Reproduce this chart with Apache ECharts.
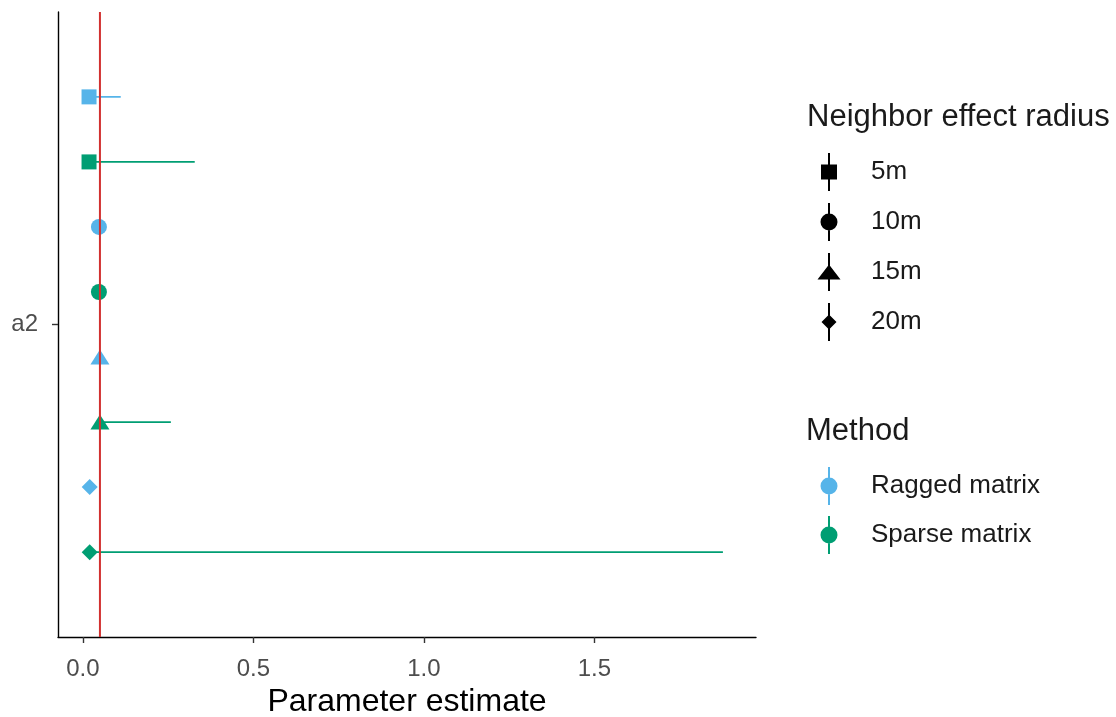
<!DOCTYPE html>
<html>
<head>
<meta charset="utf-8">
<script src="https://cdn.jsdelivr.net/npm/echarts@6/dist/echarts.min.js"></script>
<style>
  html, body { margin: 0; padding: 0; background: #ffffff; }
  #chart { width: 1116px; height: 717px; }
</style>
</head>
<body>
<div id="chart"></div>
<script>
// Parameter estimates for a2 with interval bounds, by neighbor radius and fitting method
const parameterName = 'a2';
const radii = ['5m', '10m', '15m', '20m'];
const methods = ['Ragged matrix', 'Sparse matrix'];
const raggedEstimate = [0.018, 0.047, 0.050, 0.020];
const raggedLower    = [0.000, 0.038, 0.041, 0.012];
const raggedUpper    = [0.111, 0.056, 0.060, 0.028];
const sparseEstimate = [0.018, 0.047, 0.050, 0.020];
const sparseLower    = [0.000, 0.036, 0.040, 0.010];
const sparseUpper    = [0.328, 0.058, 0.258, 1.877];
const trueValue = 0.05;
const xTicks = [0, 0.5, 1.0, 1.5];

const FONT = '"Liberation Sans", Arial, sans-serif';
const methodColors = ['#56B4E9', '#009E73'];
const radiusSymbols = ['rect', 'circle', 'triangle', 'diamond'];
const radiusSizes = [[15, 15], [16, 16], [19, 15], [16, 16]];

// dodged row positions: top to bottom, ragged then sparse within each radius
const rowMin = -0.305, rowMax = 9.305;
function rowOf(r, m) { return r * 2 + m + 1; }

const estimates = [raggedEstimate, sparseEstimate];
const lowers = [raggedLower, sparseLower];
const uppers = [raggedUpper, sparseUpper];

const pointSeries = methods.map((name, m) => ({
  name: name,
  type: 'scatter',
  yAxisIndex: 1,
  z: 3,
  itemStyle: { color: methodColors[m], opacity: 1 },
  data: radii.map((r, i) => ({
    value: [estimates[m][i], rowOf(i, m)],
    symbol: radiusSymbols[i],
    symbolSize: radiusSizes[i]
  }))
}));

const barData = [];
methods.forEach((name, m) => {
  radii.forEach((r, i) => {
    barData.push([lowers[m][i], uppers[m][i], rowOf(i, m), m]);
  });
});

// legend key glyphs: vertical line plus shape, padded to a 49x38 box
const pad = 'M0 0 L0 0 Z M49 38 L49 38 Z ';
const vline = 'M11 0 H13 V38 H11 Z ';
const radiusIcons = [
  'path://' + pad + vline + 'M4 11.5 H20 V26.5 H4 Z',
  'path://' + pad + vline + 'M3.5 19 A8.5 8.5 0 1 1 20.5 19 A8.5 8.5 0 1 1 3.5 19 Z',
  'path://' + pad + vline + 'M12 11.5 L23.5 26.5 L0.5 26.5 Z',
  'path://' + pad + vline + 'M12 11.5 L19.5 19 L12 26.5 L4.5 19 Z'
];
const methodIcon = 'path://' + pad + vline + 'M3.5 19 A8.5 8.5 0 1 1 20.5 19 A8.5 8.5 0 1 1 3.5 19 Z';

const chart = echarts.init(document.getElementById('chart'), null, { renderer: 'canvas' });

chart.setOption({
  animation: false,
  backgroundColor: '#ffffff',
  textStyle: { fontFamily: FONT },
  grid: { left: 58, right: 360, top: 12, bottom: 80, containLabel: false, outerBoundsMode: 'none' },
  xAxis: {
    type: 'value',
    min: -0.073,
    max: 1.974,
    name: 'Parameter estimate',
    nameLocation: 'middle',
    nameGap: 48,
    nameTextStyle: { fontSize: 32, color: '#000000', fontFamily: FONT },
    splitLine: { show: false },
    axisLine: { show: true, onZero: false, lineStyle: { color: '#000000', width: 1.4 } },
    axisTick: { show: true, customValues: xTicks, length: 6, lineStyle: { color: '#333333', width: 1.4 } },
    axisLabel: {
      customValues: xTicks,
      formatter: v => Number(v).toFixed(1),
      fontSize: 24,
      color: '#4d4d4d',
      margin: 20,
      fontFamily: FONT
    }
  },
  yAxis: [
    {
      type: 'category',
      data: [parameterName],
      boundaryGap: true,
      axisLine: { show: true, onZero: false, lineStyle: { color: '#000000', width: 1.4 } },
      axisTick: { show: true, alignWithLabel: true, length: 6, lineStyle: { color: '#333333', width: 1.4 } },
      axisLabel: { fontSize: 24, color: '#4d4d4d', margin: 20, fontFamily: FONT },
      splitLine: { show: false }
    },
    {
      type: 'value',
      min: rowMin,
      max: rowMax,
      inverse: true,
      show: false,
      splitLine: { show: false }
    }
  ],
  legend: [
    {
      orient: 'vertical',
      left: 817,
      top: 153,
      padding: 0,
      itemWidth: 49,
      itemHeight: 38,
      itemGap: 12,
      selectedMode: false,
      textStyle: { fontSize: 26, color: '#1a1a1a', fontFamily: FONT },
      data: radii.map((r, i) => ({ name: r, icon: radiusIcons[i] }))
    },
    {
      orient: 'vertical',
      left: 817,
      top: 467,
      padding: 0,
      itemWidth: 49,
      itemHeight: 38,
      itemGap: 11,
      selectedMode: false,
      textStyle: { fontSize: 26, color: '#1a1a1a', fontFamily: FONT },
      data: methods.map(m => ({ name: m, icon: methodIcon }))
    }
  ],
  graphic: [
    {
      type: 'text',
      x: 807,
      y: 117,
      style: { text: 'Neighbor effect radius', font: '31px ' + FONT, fill: '#1a1a1a', verticalAlign: 'middle' }
    },
    {
      type: 'text',
      x: 806,
      y: 431,
      style: { text: 'Method', font: '31px ' + FONT, fill: '#1a1a1a', verticalAlign: 'middle' }
    }
  ],
  series: [
    {
      name: 'interval',
      type: 'custom',
      yAxisIndex: 1,
      z: 1,
      encode: { x: [0, 1], y: 2 },
      renderItem: function (params, api) {
        const y = api.value(2);
        const p0 = api.coord([api.value(0), y]);
        const p1 = api.coord([api.value(1), y]);
        return {
          type: 'line',
          shape: { x1: p0[0], y1: p0[1], x2: p1[0], y2: p1[1] },
          style: { stroke: methodColors[api.value(3)], lineWidth: 1.8 }
        };
      },
      data: barData
    },
    ...pointSeries,
    ...radii.map(r => ({
      name: r,
      type: 'scatter',
      yAxisIndex: 1,
      itemStyle: { color: '#000000', opacity: 1 },
      data: []
    })),
    {
      name: 'true value',
      type: 'line',
      yAxisIndex: 1,
      z: 5,
      symbol: 'none',
      lineStyle: { color: '#d2302f', width: 2 },
      data: [[trueValue, rowMin], [trueValue, rowMax]]
    }
  ]
});
</script>
</body>
</html>
